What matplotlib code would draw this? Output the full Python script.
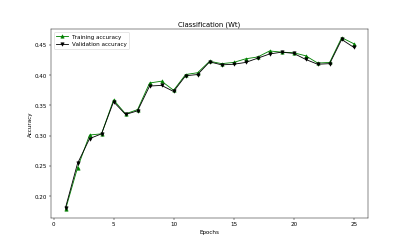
import matplotlib
matplotlib.use('Agg')
import matplotlib.pyplot as plt

epochs = list(range(1, 26))
train_acc = [0.178, 0.247, 0.301, 0.303, 0.359, 0.336, 0.343, 0.387, 0.390, 0.375,
             0.401, 0.404, 0.423, 0.419, 0.421, 0.427, 0.430, 0.440, 0.438, 0.437,
             0.432, 0.420, 0.421, 0.462, 0.452]
val_acc = [0.181, 0.254, 0.295, 0.303, 0.356, 0.335, 0.341, 0.382, 0.383, 0.373,
           0.399, 0.401, 0.422, 0.417, 0.418, 0.421, 0.428, 0.435, 0.438, 0.436,
           0.426, 0.418, 0.419, 0.459, 0.446]

fig = plt.figure(figsize=(10, 6), dpi=40.9)
plt.plot(epochs, train_acc, color='green', marker='^', linewidth=1.5, label='Training accuracy')
plt.plot(epochs, val_acc, color='black', marker='v', linewidth=1.5, label='Validation accuracy')
plt.title('Classification (Wt)')
plt.xlabel('Epochs')
plt.ylabel('Accuracy')
plt.legend(loc='upper left')
plt.savefig('out.png', dpi=40.9)
